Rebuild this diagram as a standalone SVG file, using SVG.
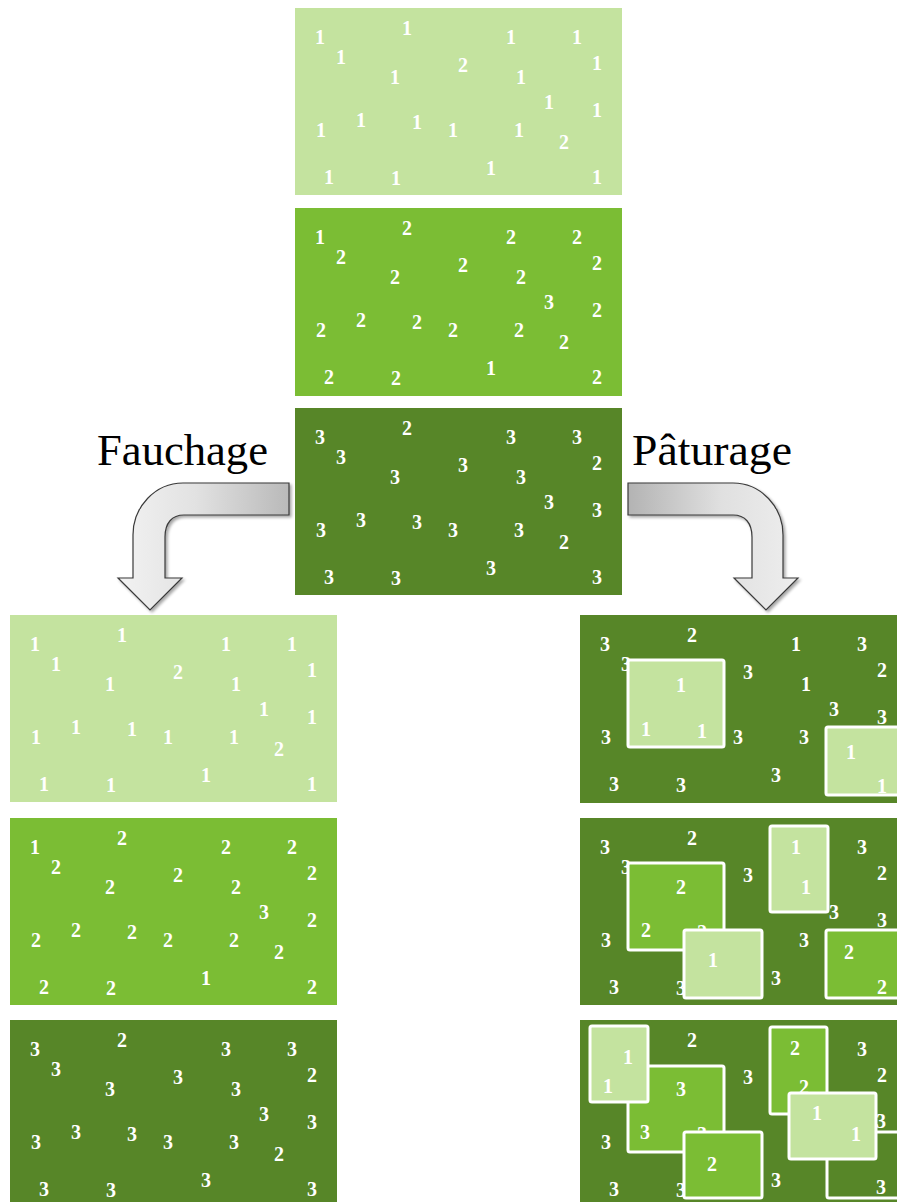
<svg xmlns="http://www.w3.org/2000/svg" width="897" height="1202" viewBox="0 0 897 1202">
<style>
.d{font-family:"Liberation Serif","Times New Roman",serif;font-weight:bold;font-size:20px;fill:#fff;text-anchor:middle}
.lbl{font-family:"Liberation Serif","Times New Roman",serif;font-size:44px;fill:#000}
.lt{fill:#c4e39f}
.md{fill:#7bbd34}
.dk{fill:#578628}
.ov{stroke:#fff;stroke-width:3}
.arrow{stroke:#3a3a3a;stroke-width:1.2}
</style>
<defs>
<linearGradient id="gl" x1="0" y1="0" x2="1" y2="0">
<stop offset="0" stop-color="#f2f2f2"/><stop offset="0.45" stop-color="#e2e2e2"/><stop offset="1" stop-color="#b9b9b9"/>
</linearGradient>
<linearGradient id="gr" x1="0" y1="0" x2="1" y2="0">
<stop offset="0" stop-color="#b3b3b3"/><stop offset="0.55" stop-color="#e0e0e0"/><stop offset="1" stop-color="#eeeeee"/>
</linearGradient>
<filter id="sh" x="-10%" y="-10%" width="130%" height="130%">
<feGaussianBlur in="SourceAlpha" stdDeviation="1.5"/>
<feOffset dx="1.5" dy="2" result="b"/>
<feComponentTransfer><feFuncA type="linear" slope="0.35"/></feComponentTransfer>
<feMerge><feMergeNode/><feMergeNode in="SourceGraphic"/></feMerge>
</filter>
</defs>
<rect width="897" height="1202" fill="#fff"/>

<!-- Top column -->
<g id="top1" transform="translate(295,8)">
<rect class="lt" width="327" height="187"/>
<text class="d" x="25" y="36">1</text><text class="d" x="46" y="56">1</text><text class="d" x="112" y="27">1</text><text class="d" x="100" y="76">1</text><text class="d" x="168" y="64">2</text><text class="d" x="216" y="36">1</text><text class="d" x="226" y="76">1</text><text class="d" x="282" y="36">1</text><text class="d" x="302" y="62">1</text><text class="d" x="254" y="101">1</text><text class="d" x="302" y="109">1</text><text class="d" x="26" y="129">1</text><text class="d" x="66" y="119">1</text><text class="d" x="122" y="121">1</text><text class="d" x="158" y="129">1</text><text class="d" x="224" y="129">1</text><text class="d" x="269" y="141">2</text><text class="d" x="34" y="176">1</text><text class="d" x="101" y="177">1</text><text class="d" x="196" y="167">1</text><text class="d" x="302" y="176">1</text>
</g>
<g id="top2" transform="translate(295,208)">
<rect class="md" width="327" height="188"/>
<text class="d" x="25" y="36">1</text><text class="d" x="46" y="56">2</text><text class="d" x="112" y="27">2</text><text class="d" x="100" y="76">2</text><text class="d" x="168" y="64">2</text><text class="d" x="216" y="36">2</text><text class="d" x="226" y="76">2</text><text class="d" x="282" y="36">2</text><text class="d" x="302" y="62">2</text><text class="d" x="254" y="101">3</text><text class="d" x="302" y="109">2</text><text class="d" x="26" y="129">2</text><text class="d" x="66" y="119">2</text><text class="d" x="122" y="121">2</text><text class="d" x="158" y="129">2</text><text class="d" x="224" y="129">2</text><text class="d" x="269" y="141">2</text><text class="d" x="34" y="176">2</text><text class="d" x="101" y="177">2</text><text class="d" x="196" y="167">1</text><text class="d" x="302" y="176">2</text>
</g>
<g id="top3" transform="translate(295,408)">
<rect class="dk" width="327" height="187"/>
<text class="d" x="25" y="36">3</text><text class="d" x="46" y="56">3</text><text class="d" x="112" y="27">2</text><text class="d" x="100" y="76">3</text><text class="d" x="168" y="64">3</text><text class="d" x="216" y="36">3</text><text class="d" x="226" y="76">3</text><text class="d" x="282" y="36">3</text><text class="d" x="302" y="62">2</text><text class="d" x="254" y="101">3</text><text class="d" x="302" y="109">3</text><text class="d" x="26" y="129">3</text><text class="d" x="66" y="119">3</text><text class="d" x="122" y="121">3</text><text class="d" x="158" y="129">3</text><text class="d" x="224" y="129">3</text><text class="d" x="269" y="141">2</text><text class="d" x="34" y="176">3</text><text class="d" x="101" y="177">3</text><text class="d" x="196" y="167">3</text><text class="d" x="302" y="176">3</text>
</g>

<!-- Labels -->
<g id="label-fauchage"><text class="lbl" x="97" y="465" textLength="171" lengthAdjust="spacingAndGlyphs">Fauchage</text></g>
<g id="label-paturage"><text class="lbl" x="632" y="465" textLength="160" lengthAdjust="spacingAndGlyphs">Pâturage</text></g>

<!-- Connectors -->
<g id="connectors" filter="url(#sh)">
<path class="arrow" fill="url(#gl)" d="M289,483 L183,483 C155,483 133,507 133,535 L133,578 L118,578 L150,610 L182,578 L165,578 L165,537 C165,523 172,515 184,515 L289,515 Z"/>
<path class="arrow" fill="url(#gr)" d="M628,483 L733,483 C761,483 783,507 783,535 L783,578 L798,578 L766,610 L734,578 L752,578 L752,537 C752,523 745,515 733,515 L628,515 Z"/>
</g>

<!-- Fauchage column -->
<g id="fauche1" transform="translate(10,615)">
<rect class="lt" width="327" height="187"/>
<text class="d" x="25" y="36">1</text><text class="d" x="46" y="56">1</text><text class="d" x="112" y="27">1</text><text class="d" x="100" y="76">1</text><text class="d" x="168" y="64">2</text><text class="d" x="216" y="36">1</text><text class="d" x="226" y="76">1</text><text class="d" x="282" y="36">1</text><text class="d" x="302" y="62">1</text><text class="d" x="254" y="101">1</text><text class="d" x="302" y="109">1</text><text class="d" x="26" y="129">1</text><text class="d" x="66" y="119">1</text><text class="d" x="122" y="121">1</text><text class="d" x="158" y="129">1</text><text class="d" x="224" y="129">1</text><text class="d" x="269" y="141">2</text><text class="d" x="34" y="176">1</text><text class="d" x="101" y="177">1</text><text class="d" x="196" y="167">1</text><text class="d" x="302" y="176">1</text>
</g>
<g id="fauche2" transform="translate(10,818)">
<rect class="md" width="327" height="187"/>
<text class="d" x="25" y="36">1</text><text class="d" x="46" y="56">2</text><text class="d" x="112" y="27">2</text><text class="d" x="100" y="76">2</text><text class="d" x="168" y="64">2</text><text class="d" x="216" y="36">2</text><text class="d" x="226" y="76">2</text><text class="d" x="282" y="36">2</text><text class="d" x="302" y="62">2</text><text class="d" x="254" y="101">3</text><text class="d" x="302" y="109">2</text><text class="d" x="26" y="129">2</text><text class="d" x="66" y="119">2</text><text class="d" x="122" y="121">2</text><text class="d" x="158" y="129">2</text><text class="d" x="224" y="129">2</text><text class="d" x="269" y="141">2</text><text class="d" x="34" y="176">2</text><text class="d" x="101" y="177">2</text><text class="d" x="196" y="167">1</text><text class="d" x="302" y="176">2</text>
</g>
<g id="fauche3" transform="translate(10,1020)">
<rect class="dk" width="327" height="187"/>
<text class="d" x="25" y="36">3</text><text class="d" x="46" y="56">3</text><text class="d" x="112" y="27">2</text><text class="d" x="100" y="76">3</text><text class="d" x="168" y="64">3</text><text class="d" x="216" y="36">3</text><text class="d" x="226" y="76">3</text><text class="d" x="282" y="36">3</text><text class="d" x="302" y="62">2</text><text class="d" x="254" y="101">3</text><text class="d" x="302" y="109">3</text><text class="d" x="26" y="129">3</text><text class="d" x="66" y="119">3</text><text class="d" x="122" y="121">3</text><text class="d" x="158" y="129">3</text><text class="d" x="224" y="129">3</text><text class="d" x="269" y="141">2</text><text class="d" x="34" y="176">3</text><text class="d" x="101" y="177">3</text><text class="d" x="196" y="167">3</text><text class="d" x="302" y="176">3</text>
</g>

<!-- Pâturage column -->
<g id="pature1" transform="translate(580,615)">
<rect class="dk" width="327" height="188"/>
<text class="d" x="25" y="36">3</text><text class="d" x="46" y="56">3</text><text class="d" x="112" y="27">2</text><text class="d" x="168" y="64">3</text><text class="d" x="216" y="36">1</text><text class="d" x="226" y="76">1</text><text class="d" x="282" y="36">3</text><text class="d" x="302" y="62">2</text><text class="d" x="254" y="101">3</text><text class="d" x="302" y="109">3</text><text class="d" x="26" y="129">3</text><text class="d" x="158" y="129">3</text><text class="d" x="224" y="129">3</text><text class="d" x="34" y="176">3</text><text class="d" x="101" y="177">3</text><text class="d" x="196" y="167">3</text>
<rect class="lt ov" x="48" y="45" width="96" height="87" rx="2"/>
<text class="d" x="101" y="77">1</text><text class="d" x="66" y="121">1</text><text class="d" x="122" y="123">1</text>
<rect class="lt ov" x="246" y="112" width="90" height="68" rx="2"/>
<text class="d" x="271" y="144">1</text><text class="d" x="302" y="178">1</text>
</g>
<g id="pature2" transform="translate(580,818)">
<rect class="dk" width="327" height="187"/>
<text class="d" x="25" y="36">3</text><text class="d" x="46" y="56">3</text><text class="d" x="112" y="27">2</text><text class="d" x="168" y="64">3</text><text class="d" x="282" y="36">3</text><text class="d" x="302" y="62">2</text><text class="d" x="302" y="109">3</text><text class="d" x="26" y="129">3</text><text class="d" x="224" y="129">3</text><text class="d" x="34" y="176">3</text><text class="d" x="101" y="177">3</text><text class="d" x="196" y="167">3</text>
<rect class="md ov" x="48" y="45" width="96" height="87" rx="2"/>
<text class="d" x="101" y="76">2</text><text class="d" x="66" y="119">2</text><text class="d" x="122" y="121">2</text>
<rect class="lt ov" x="104" y="112" width="78" height="68" rx="2"/>
<text class="d" x="133" y="149">1</text>
<rect class="lt ov" x="190" y="8" width="58" height="86" rx="2"/>
<text class="d" x="216" y="36">1</text><text class="d" x="226" y="76">1</text>
<text class="d" x="254" y="101">3</text>
<rect class="md ov" x="246" y="112" width="90" height="68" rx="2"/>
<text class="d" x="269" y="141">2</text><text class="d" x="302" y="176">2</text>
</g>
<g id="pature3" transform="translate(580,1020)">
<rect class="dk" width="327" height="187"/>
<text class="d" x="112" y="27">2</text><text class="d" x="168" y="64">3</text><text class="d" x="282" y="36">3</text><text class="d" x="302" y="62">2</text><text class="d" x="301" y="108">3</text><text class="d" x="26" y="129">3</text><text class="d" x="34" y="176">3</text><text class="d" x="101" y="177">3</text><text class="d" x="196" y="167">3</text>
<rect class="md ov" x="48" y="46" width="96" height="86" rx="2"/>
<text class="d" x="101" y="76">3</text><text class="d" x="65" y="119">3</text><text class="d" x="122" y="121">3</text>
<rect class="lt ov" x="10" y="6" width="58" height="76" rx="2"/>
<text class="d" x="48" y="44">1</text><text class="d" x="28" y="73">1</text>
<rect class="md ov" x="104" y="112" width="78" height="66" rx="2"/>
<text class="d" x="132" y="151">2</text>
<rect class="md ov" x="190" y="7" width="57" height="87" rx="2"/>
<text class="d" x="215" y="35">2</text><text class="d" x="224" y="74">2</text>
<rect class="dk ov" x="247" y="112" width="90" height="66" rx="2"/>
<text class="d" x="301" y="174">3</text>
<rect class="lt ov" x="209" y="73" width="87" height="66" rx="2"/>
<text class="d" x="237" y="100">1</text><text class="d" x="276" y="121">1</text>
</g>
</svg>
